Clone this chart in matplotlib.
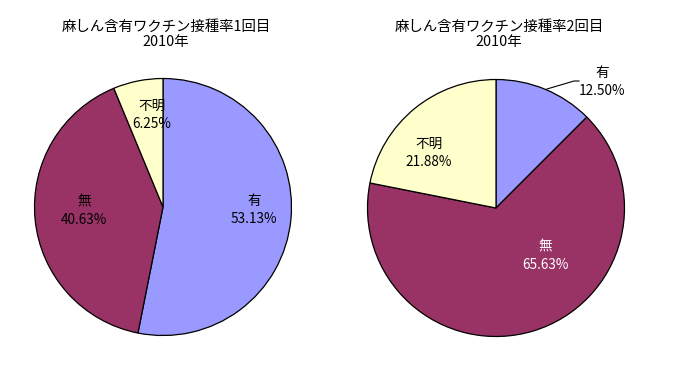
import matplotlib
matplotlib.use("Agg")
import matplotlib.pyplot as plt

plt.rcParams['font.family'] = ['Noto Sans CJK JP', 'DejaVu Sans']

categories = ["有", "無", "不明"]
dose1_values = [53.13, 40.63, 6.25]
dose2_values = [12.50, 65.63, 21.88]
titles = ["麻しん含有ワクチン接種率1回目\n2010年", "麻しん含有ワクチン接種率2回目\n2010年"]
colors = ["#9999FF", "#993366", "#FFFFCC"]

W, H = 688, 379
fig = plt.figure(figsize=(W / 100, H / 100), dpi=100)
ax = fig.add_axes([0, 0, 1, 1])
ax.set_xlim(0, W)
ax.set_ylim(0, H)
ax.set_aspect('equal')
ax.axis('off')

def Y(y):
    return H - y

# layout (pixel coords, top-left origin)
centers = [(163, 207), (496, 208)]
radius = 128.5
title_pos = [(166, 34), (499, 34)]
label_pos = [
    [(254, 210), (84, 211), (152, 115)],
    [(602, 82), (545, 256), (429, 153)],
]
label_colors = [["black", "black", "black"], ["black", "white", "black"]]

for i, vals in enumerate([dose1_values, dose2_values]):
    cx, cy = centers[i]
    ax.pie(vals, colors=colors, startangle=90, counterclock=False,
           center=(cx, Y(cy)), radius=radius, frame=True,
           wedgeprops=dict(edgecolor='black', linewidth=0.9))
    tx, ty = title_pos[i]
    ax.text(tx, Y(ty), titles[i], ha='center', va='center', fontsize=10.4,
            linespacing=1.1)
    for j, cat in enumerate(categories):
        lx, ly = label_pos[i][j]
        ax.text(lx, Y(ly), f"{cat}\n{vals[j]:.2f}%", ha='center', va='center',
                fontsize=9.8, color=label_colors[i][j], linespacing=1.4)

# leader line for 有 on second chart
ax.plot([547, 574, 579], [Y(89), Y(81), Y(81)], color='black', linewidth=0.8)

ax.set_xlim(0, W)
ax.set_ylim(0, H)
ax.axis('off')
fig.savefig("out.png", dpi=100)
